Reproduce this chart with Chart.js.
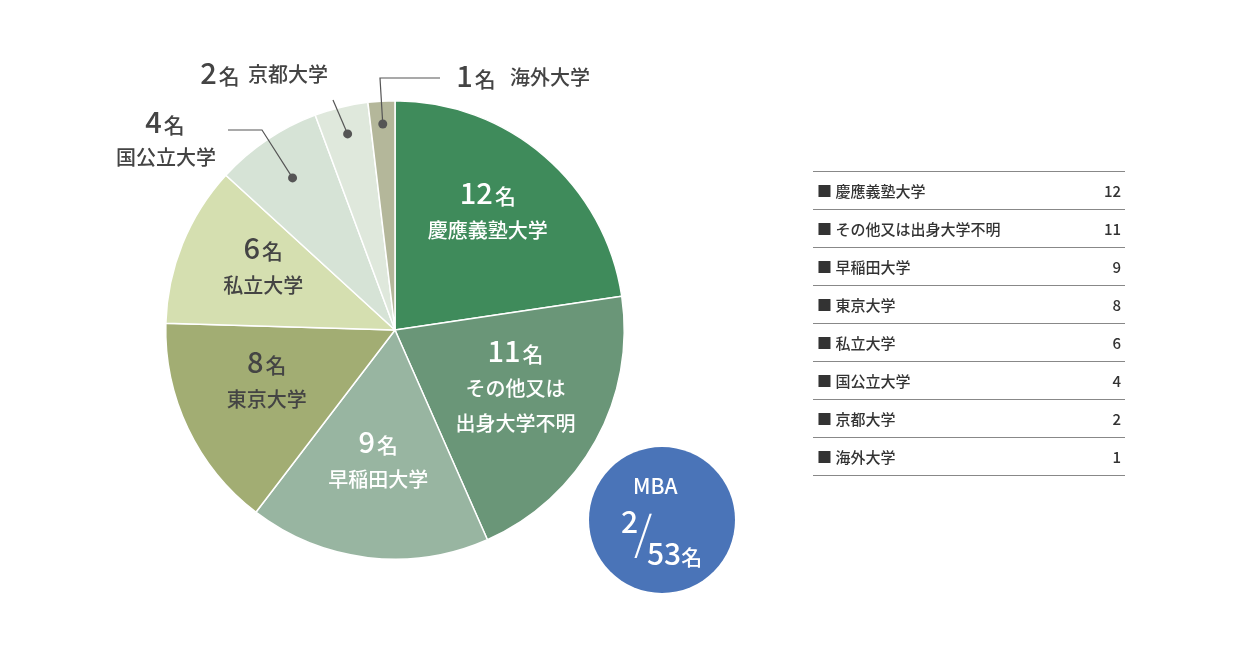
<!DOCTYPE html>
<html><head><meta charset="utf-8">
<script src="https://cdn.jsdelivr.net/npm/chart.js@4/dist/chart.umd.min.js"></script>
<style>
body{margin:0;background:#fff;font-family:"Noto Sans CJK JP","Noto Sans",sans-serif;}
#wrap{position:relative;width:1240px;height:650px;}
#mba{position:absolute;left:589px;top:447px;width:146px;height:146px;border-radius:50%;background:#4a74b8;color:#fff;font-weight:500;}
#mba div{position:absolute;line-height:1;}
#tbl{position:absolute;left:813px;top:171px;width:312px;border-collapse:collapse;font-size:15px;color:#333;font-weight:500;}
#tbl td{border-bottom:1px solid #888;height:37px;padding:0 4px;}
#tbl tr:first-child td{border-top:1px solid #888;}
#tbl td.v{text-align:right;}
</style></head><body>
<div id="wrap">
<canvas id="c" width="1240" height="650"></canvas>
<div id="mba">
<div style="font-size:21px;left:44px;top:28px">MBA</div>
<div style="font-size:30px;left:32px;top:58px">2</div>
<div style="font-size:46px;font-weight:200;left:45px;top:60px">/</div>
<div style="font-size:30px;left:58px;top:90px">53<span style="font-size:21px">名</span></div>
</div>
<table id="tbl"></table>
</div>
<script>
const categories = ['慶應義塾大学','その他又は出身大学不明','早稲田大学','東京大学','私立大学','国公立大学','京都大学','海外大学'];
const counts = [12, 11, 9, 8, 6, 4, 2, 1];
const colors = ['#3f8b5b','#6a9678','#98b5a1','#a2ad73','#d5dfb0','#d6e3d6','#dfe8dc','#b4b79a'];
const insideLines = [['慶應義塾大学'],['その他又は','出身大学不明'],['早稲田大学'],['東京大学'],['私立大学']];

const tbl = document.getElementById('tbl');
categories.forEach((c, i) => {
  tbl.insertAdjacentHTML('beforeend', '<tr><td>■ ' + c + '</td><td class="v">' + counts[i] + '</td></tr>');
});

const F = '"Noto Sans CJK JP"';
function countText(ctx, n, x, y, color, big) {
  ctx.fillStyle = color;
  ctx.textBaseline = 'alphabetic';
  ctx.font = '500 ' + big + 'px ' + F;
  const w1 = ctx.measureText(String(n)).width;
  ctx.font = '500 ' + (big * 0.72) + 'px ' + F;
  const w2 = ctx.measureText('名').width;
  let sx = x - (w1 + w2 + 2) / 2;
  ctx.textAlign = 'left';
  ctx.font = '500 ' + big + 'px ' + F;
  ctx.fillText(String(n), sx, y);
  ctx.font = '500 ' + (big * 0.72) + 'px ' + F;
  ctx.fillText('名', sx + w1 + 2, y);
}

const labelPlugin = {
  id: 'labels',
  afterDatasetsDraw(chart) {
    const ctx = chart.ctx;
    const arcs = chart.getDatasetMeta(0).data;
    ctx.save();
    arcs.forEach((a, i) => {
      if (i >= insideLines.length) return;
      const mid = (a.startAngle + a.endAngle) / 2;
      const r = a.outerRadius * (i === 1 ? 0.6 : 0.62);
      const x = a.x + Math.cos(mid) * r, y = a.y + Math.sin(mid) * r;
      const col = i < 3 ? '#fff' : '#444';
      const lines = insideLines[i];
      const top = y - (lines.length * 32) / 2 - 2;
      countText(ctx, counts[i], x, top, col, 29);
      ctx.font = '500 20px ' + F;
      ctx.textAlign = 'center';
      lines.forEach((l, k) => ctx.fillText(l, x, top + 34 + k * 35));
    });
    const pt = (i, f) => {
      const a = arcs[i], m = (a.startAngle + a.endAngle) / 2;
      return [a.x + Math.cos(m) * a.outerRadius * f, a.y + Math.sin(m) * a.outerRadius * f];
    };
    ctx.strokeStyle = '#555'; ctx.fillStyle = '#555'; ctx.lineWidth = 1.2;
    const leaders = [
      [5, [[228,130],[262,130]], 0.8],
      [6, [[333,100]], 0.88],
      [7, [[440,78],[380,78]], 0.9]
    ];
    leaders.forEach(([i, path, f]) => {
      const p = pt(i, f);
      ctx.beginPath();
      ctx.moveTo(path[0][0], path[0][1]);
      path.slice(1).forEach(q => ctx.lineTo(q[0], q[1]));
      ctx.lineTo(p[0], p[1]);
      ctx.stroke();
      ctx.beginPath(); ctx.arc(p[0], p[1], 4.5, 0, Math.PI * 2); ctx.fill();
    });
    countText(ctx, counts[5], 165, 133, '#444', 29);
    ctx.font = '500 20px ' + F; ctx.textAlign = 'center'; ctx.fillStyle = '#444';
    ctx.fillText(categories[5], 166, 165);
    countText(ctx, counts[6], 220, 84, '#444', 29);
    ctx.font = '500 20px ' + F; ctx.textAlign = 'left'; ctx.fillStyle = '#444';
    ctx.fillText(categories[6], 248, 82);
    countText(ctx, counts[7], 476, 87, '#444', 29);
    ctx.font = '500 20px ' + F; ctx.textAlign = 'left'; ctx.fillStyle = '#444';
    ctx.fillText(categories[7], 510, 85);
    ctx.restore();
  }
};

new Chart(document.getElementById('c'), {
  type: 'pie',
  data: {
    labels: categories,
    datasets: [{ data: counts, backgroundColor: colors, borderColor: '#fff', borderWidth: 1.5 }]
  },
  options: {
    responsive: false,
    animation: false,
    layout: { padding: { left: 165, top: 100, right: 615, bottom: 90 } },
    plugins: { legend: { display: false }, tooltip: { enabled: false } }
  },
  plugins: [labelPlugin]
});
</script>
</body></html>
